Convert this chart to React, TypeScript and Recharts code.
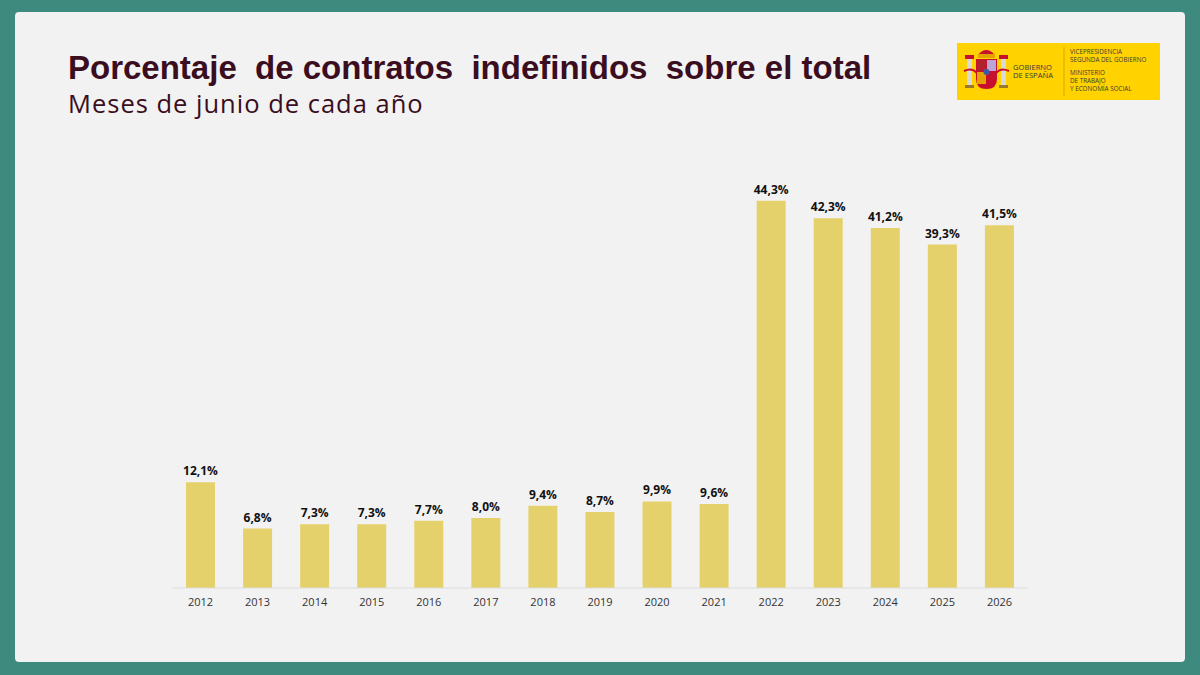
import { BarChart, Bar, XAxis, YAxis, LabelList } from 'recharts';

const years = ['2012', '2013', '2014', '2015', '2016', '2017', '2018', '2019', '2020', '2021', '2022', '2023', '2024', '2025', '2026'];
const shares = [12.1, 6.8, 7.3, 7.3, 7.7, 8.0, 9.4, 8.7, 9.9, 9.6, 44.3, 42.3, 41.2, 39.3, 41.5];

const data = years.map((year, i) => ({ year, share: shares[i] }));

const TEAL = '#3f8a7e';
const MAROON = '#3a0e20';
const BAR = '#e5d16b';

const fmt = (v: any) => Number(v).toFixed(1).replace('.', ',') + '%';

const Logo = () => (
  <svg width={203} height={57} style={{ position: 'absolute', left: 957, top: 43 }}>
    <rect x={0} y={0} width={203} height={57} fill="#ffd200" />
    {/* simplified coat of arms */}
    <rect x={10} y={15} width={5} height={28} fill="#d9d9d9" />
    <rect x={44} y={15} width={5} height={28} fill="#d9d9d9" />
    <rect x={8} y={12} width={9} height={4} fill="#c8102e" />
    <rect x={42} y={12} width={9} height={4} fill="#c8102e" />
    <rect x={8} y={42} width={9} height={3} fill="#9a7a2a" />
    <rect x={42} y={42} width={9} height={3} fill="#9a7a2a" />
    <path d="M7 28 Q15 24 20 30" stroke="#c8102e" strokeWidth={2} fill="none" />
    <path d="M52 28 Q44 24 39 30" stroke="#c8102e" strokeWidth={2} fill="none" />
    <path d="M21 12 Q29 2 38 12 Z" fill="#c8102e" />
    <rect x={21} y={11} width={17} height={4} fill="#e3a400" />
    <path d="M19 16 H40 V36 Q40 46 29.5 46 Q19 46 19 36 Z" fill="#c8102e" />
    <rect x={30} y={17} width={9} height={11} fill="#b9a6d6" />
    <rect x={20} y={17} width={9} height={11} fill="#b0222e" />
    <rect x={20} y={29} width={9} height={12} fill="#e3a400" />
    <circle cx={29.5} cy={29} r={3} fill="#3b5ba9" />
    <text x={56} y={27} fontSize={7.6} fontFamily="'Open Sans', sans-serif" fill="#3a3a3a">GOBIERNO</text>
    <text x={56} y={35} fontSize={7.6} fontFamily="'Open Sans', sans-serif" fill="#3a3a3a">DE ESPAÑA</text>
    <line x1={107} y1={4} x2={107} y2={53} stroke="#b89400" strokeWidth={0.6} />
    <text x={113} y={11} fontSize={6.3} fontFamily="'Open Sans', sans-serif" fill="#3a3a3a">VICEPRESIDENCIA</text>
    <text x={113} y={19} fontSize={6.3} fontFamily="'Open Sans', sans-serif" fill="#3a3a3a">SEGUNDA DEL GOBIERNO</text>
    <text x={113} y={32} fontSize={6.3} fontFamily="'Open Sans', sans-serif" fill="#3a3a3a">MINISTERIO</text>
    <text x={113} y={40} fontSize={6.3} fontFamily="'Open Sans', sans-serif" fill="#3a3a3a">DE TRABAJO</text>
    <text x={113} y={48} fontSize={6.3} fontFamily="'Open Sans', sans-serif" fill="#3a3a3a">Y ECONOMÍA SOCIAL</text>
  </svg>
);

export default function App() {
  return (
    <div style={{ position: 'fixed', left: 0, top: 0, width: 1200, height: 675, background: TEAL, overflow: 'hidden' }}>
      <div
        style={{
          position: 'absolute',
          left: 15,
          top: 12,
          width: 1170,
          height: 650,
          background: '#f2f2f2',
          borderRadius: 4,
        }}
      />
      <div
        style={{
          position: 'absolute',
          left: 68,
          top: 50,
          fontFamily: "'Liberation Sans', Arial, sans-serif",
          fontWeight: 700,
          fontSize: 33,
          color: MAROON,
          whiteSpace: 'pre',
          lineHeight: '36px',
        }}
      >
        {'Porcentaje  de contratos  indefinidos  sobre el total'}
      </div>
      <div
        style={{
          position: 'absolute',
          left: 68,
          top: 88,
          fontFamily: "'Open Sans', sans-serif",
          fontWeight: 400,
          fontSize: 25.5,
          letterSpacing: 1.0,
          color: MAROON,
          lineHeight: '30px',
        }}
      >
        Meses de junio de cada año
      </div>
      <Logo />
      <div style={{ position: 'absolute', left: 0, top: 0 }}>
        <BarChart
          width={1200}
          height={675}
          data={data}
          margin={{ top: 151, right: 172, bottom: 57, left: 172 }}
        >
          <XAxis
            dataKey="year"
            height={30}
            axisLine={{ stroke: '#dcdcdc' }}
            tickLine={false}
            tick={{ fontSize: 11, fill: '#333', fontFamily: "'Open Sans', sans-serif", dy: 2 }}
            interval={0}
          />
          <YAxis hide domain={[0, 50]} />
          <Bar dataKey="share" fill={BAR} barSize={29} isAnimationActive={false}>
            <LabelList
              dataKey="share"
              position="top"
              offset={7}
              formatter={fmt}
              style={{ fontSize: 12, fontWeight: 700, fill: '#111', fontFamily: "'Open Sans', sans-serif" }}
            />
          </Bar>
        </BarChart>
      </div>
    </div>
  );
}
